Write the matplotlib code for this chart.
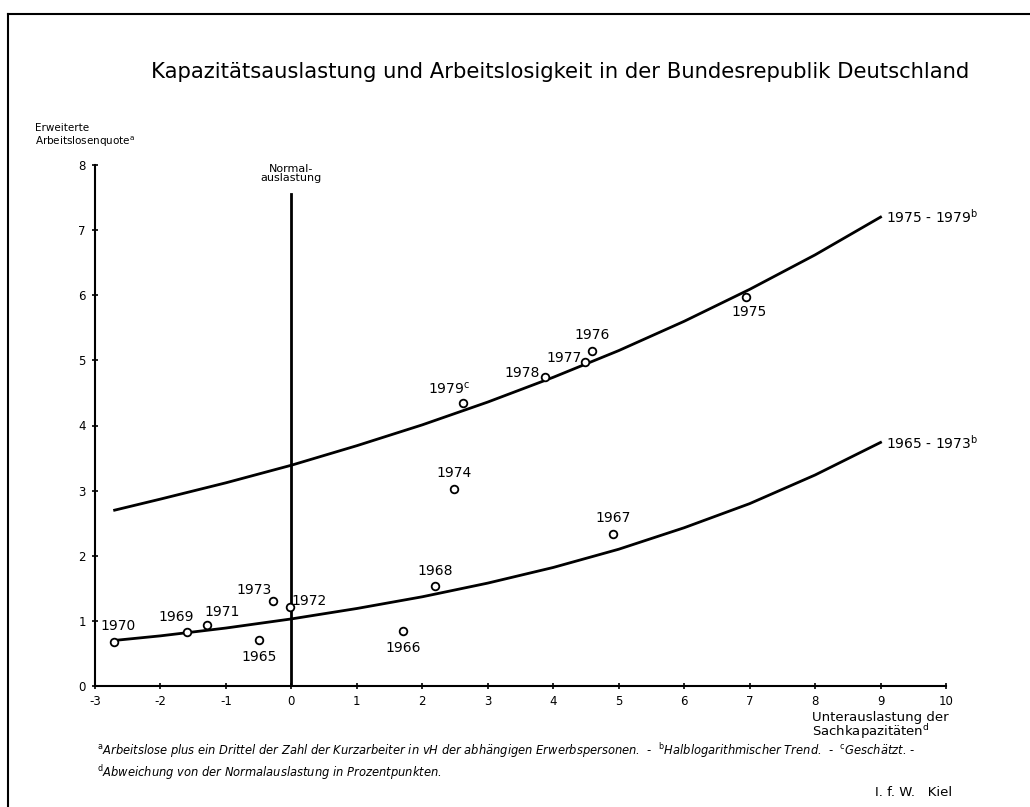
import matplotlib
matplotlib.use("Agg")
from matplotlib import pyplot as plt
from matplotlib.lines import Line2D

plt.rcParams["axes.unicode_minus"] = False

# Years and their (underutilisation, unemployment rate) values
years = ["1965", "1966", "1967", "1968", "1969", "1970", "1971", "1972",
         "1973", "1974", "1975", "1976", "1977", "1978", "1979"]
unterauslastung = [-0.50, 1.71, 4.92, 2.19, -1.59, -2.71, -1.29, -0.02,
                   -0.28, 2.48, 6.95, 4.59, 4.49, 3.87, 2.62]
arbeitslosenquote = [0.70, 0.84, 2.34, 1.53, 0.83, 0.68, 0.94, 1.22,
                     1.31, 3.02, 5.98, 5.14, 4.97, 4.74, 4.35]

# trend lines
trend_x = [-2.7, -2, -1, 0, 1, 2, 3, 4, 5, 6, 7, 8, 9]
trend_1975_1979 = [2.70, 2.87, 3.12, 3.39, 3.69, 4.01, 4.36, 4.74, 5.15,
                   5.60, 6.09, 6.62, 7.20]
trend_1965_1973 = [0.70, 0.77, 0.89, 1.03, 1.19, 1.37, 1.58, 1.82, 2.10,
                   2.43, 2.80, 3.24, 3.74]

x_ticks = list(range(-3, 11))
y_ticks = list(range(0, 9))

# label offsets (points) for each year label
offsets = {
    "1965": (0, -12), "1966": (0, -12), "1967": (0, 11), "1968": (0, 11),
    "1969": (-8, 11), "1970": (3, 11), "1971": (11, 9), "1972": (14, 4),
    "1973": (-14, 8), "1974": (0, 12), "1975": (2, -11), "1976": (0, 12),
    "1977": (-15, 3), "1978": (-16, 3), "1979": (-10, 10),
}


def main():
    fig = plt.figure(figsize=(10.30, 8.07), dpi=100)
    ax = fig.add_axes([95 / 1030, (807 - 686) / 807, 851 / 1030, 521 / 807])

    ax.plot(trend_x, trend_1975_1979, color="black", lw=2.0)
    ax.plot(trend_x, trend_1965_1973, color="black", lw=2.0)
    ax.plot([0, 0], [0, 7.55], color="black", lw=2.0)

    ax.plot(unterauslastung, arbeitslosenquote, linestyle="none", marker="o",
            markersize=5.5, markerfacecolor="white", markeredgecolor="black",
            markeredgewidth=1.3, zorder=3)

    for year, x, y in zip(years, unterauslastung, arbeitslosenquote):
        label = year + ("$^{\\mathrm{c}}$" if year == "1979" else "")
        ax.annotate(label, (x, y), xytext=offsets[year],
                    textcoords="offset points", ha="center", va="center",
                    fontsize=10)

    ax.annotate("1975 - 1979$^{\\mathrm{b}}$", (trend_x[-1], trend_1975_1979[-1]),
                xytext=(4, 0), textcoords="offset points", ha="left",
                va="center", fontsize=10)
    ax.annotate("1965 - 1973$^{\\mathrm{b}}$", (trend_x[-1], trend_1965_1973[-1]),
                xytext=(4, 0), textcoords="offset points", ha="left",
                va="center", fontsize=10)
    ax.text(0, 7.72, "Normal-\nauslastung", ha="center", va="bottom",
            fontsize=8, linespacing=0.85)

    ax.set_xlim(-3, 10)
    ax.set_ylim(0, 8)
    ax.set_xticks(x_ticks)
    ax.set_yticks(y_ticks)
    ax.spines["top"].set_visible(False)
    ax.spines["right"].set_visible(False)
    ax.spines["left"].set_linewidth(1.5)
    ax.spines["bottom"].set_linewidth(1.5)
    ax.tick_params(axis="both", direction="inout", length=5, width=1.2,
                   labelsize=8.5, pad=4)

    fig.text(560 / 1030, 1 - 72 / 807,
             "Kapazitätsauslastung und Arbeitslosigkeit in der Bundesrepublik Deutschland",
             ha="center", va="center", fontsize=15.2)
    fig.text(35 / 1030, 1 - 136 / 807,
             "Erweiterte\nArbeitslosenquote$^{\\mathrm{a}}$", ha="left",
             va="center", fontsize=7.5, linespacing=1.1)
    fig.text(812 / 1030, 1 - 726 / 807,
             "Unterauslastung der\nSachkapazitäten$^{\\mathrm{d}}$",
             ha="left", va="center", fontsize=9.5, linespacing=0.9)

    fig.text(97 / 1030, 1 - 751 / 807,
             "$^{\\mathrm{a}}$Arbeitslose plus ein Drittel der Zahl der Kurzarbeiter "
             "in vH der abhängigen Erwerbspersonen.  -  "
             "$^{\\mathrm{b}}$Halblogarithmischer Trend.  -  "
             "$^{\\mathrm{c}}$Geschätzt. -",
             ha="left", va="center", fontsize=8.3, style="italic")
    fig.text(97 / 1030, 1 - 773 / 807,
             "$^{\\mathrm{d}}$Abweichung von der Normalauslastung in Prozentpunkten.",
             ha="left", va="center", fontsize=8.3, style="italic")
    fig.text(952 / 1030, 1 - 792 / 807, "I. f. W.   Kiel", ha="right",
             va="center", fontsize=9.5)

    # page frame of the scan (top and left edges)
    fig.add_artist(Line2D([8 / 1030, 1], [1 - 14 / 807, 1 - 14 / 807],
                          transform=fig.transFigure, color="black", lw=1.5))
    fig.add_artist(Line2D([8 / 1030, 8 / 1030], [0, 1 - 14 / 807],
                          transform=fig.transFigure, color="black", lw=1.5))

    fig.savefig("out.png", dpi=100)


if __name__ == "__main__":
    main()
